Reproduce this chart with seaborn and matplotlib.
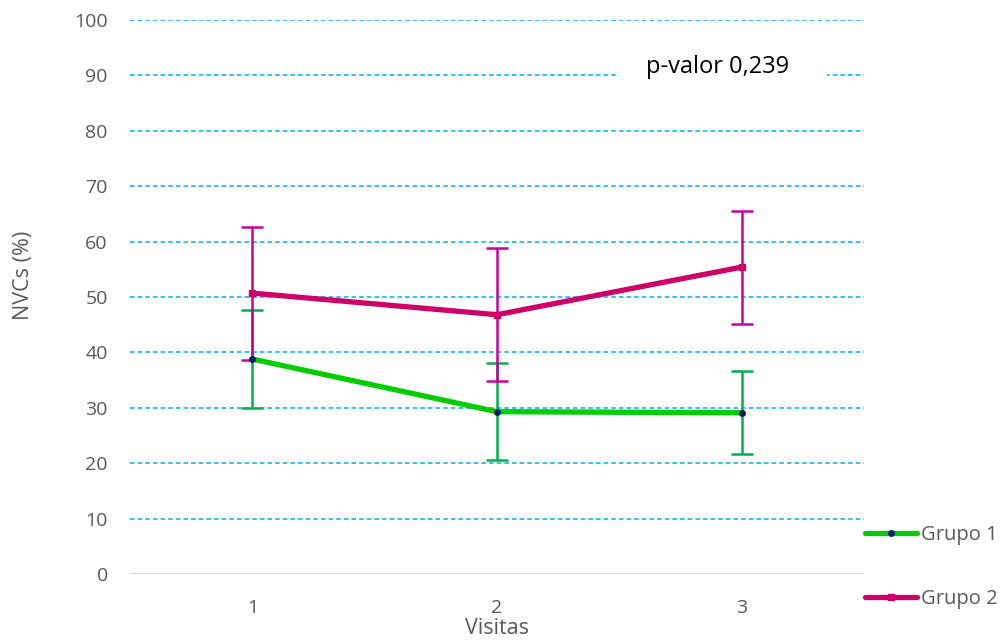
import matplotlib
matplotlib.use("Agg")
import matplotlib.pyplot as plt
import seaborn as sns
import pandas as pd
from matplotlib.lines import Line2D
from matplotlib.patches import Rectangle

visitas = [1, 2, 3]
grupo1 = [38.8, 29.3, 29.1]
grupo1_err = [8.8, 8.8, 7.5]
grupo2 = [50.7, 46.8, 55.4]
grupo2_err = [12.0, 12.0, 10.2]
yticks = [0, 10, 20, 30, 40, 50, 60, 70, 80, 90, 100]

sns.set_theme(style="white")
plt.rcParams['font.family'] = ['Open Sans', 'DejaVu Sans']

df = pd.DataFrame({
    "Visitas": visitas * 2,
    "NVC": grupo1 + grupo2,
    "Grupo": ["Grupo 1"] * 3 + ["Grupo 2"] * 3,
})

fig = plt.figure(figsize=(10.05, 6.43), dpi=100)
ax = fig.add_axes([130 / 1005, 1 - 574 / 643, (864 - 130) / 1005, (574 - 20) / 643])

c1_line = "#00CC00"
c1_err = "#00B050"
c2_line = "#CC0066"
c2_err = "#CC0099"

for y in yticks[1:]:
    ax.axhline(y, color="#00B0F0", lw=1.1, ls=(0, (3, 2)), zorder=1)
ax.axhline(0, color="#D9D9D9", lw=1.3, zorder=1)

ax.errorbar(visitas, grupo1, yerr=grupo1_err, fmt="none", ecolor=c1_err,
            elinewidth=1.8, capsize=8, capthick=1.8, zorder=3)
ax.errorbar(visitas, grupo2, yerr=grupo2_err, fmt="none", ecolor=c2_err,
            elinewidth=1.8, capsize=8, capthick=1.8, zorder=3)

sns.lineplot(data=df, x="Visitas", y="NVC", hue="Grupo",
             palette={"Grupo 1": c1_line, "Grupo 2": c2_line},
             linewidth=3.8, legend=False, ax=ax, zorder=4)
ax.plot(visitas, grupo1, ls="none", marker="o", ms=4, color="#002060", zorder=5)
ax.plot(visitas, grupo2, ls="none", marker="s", ms=5, color=c2_line, zorder=5)

ax.set_xlim(0.5, 3.5)
ax.set_ylim(0, 100)
ax.set_xticks(visitas)
ax.set_yticks(yticks)
ax.tick_params(axis="both", length=0, labelsize=14, labelcolor="#595959")
ax.tick_params(axis="x", pad=18)
ax.tick_params(axis="y", pad=16)
for s in ax.spines.values():
    s.set_visible(False)
ax.set_xlabel("Visitas", fontsize=15.5, color="#595959")
ax.xaxis.set_label_coords(0.5, (574 - 618) / 554)
ax.set_ylabel("NVCs (%)", fontsize=15.5, color="#595959", va="center")
ax.yaxis.set_label_coords((24 - 130) / 734, (574 - 275) / 554)
ax.grid(False)

ax.add_patch(Rectangle((2.49, 86), 0.86, 8, facecolor="white",
                       edgecolor="none", zorder=2))
ax.text(2.9, 91.5, "p-valor 0,239", fontsize=17, color="#000000",
        ha="center", va="center", zorder=6)

handles = [
    Line2D([0], [0], color=c1_line, lw=3.8, marker="o", ms=4,
           markerfacecolor="#002060", markeredgecolor="#002060"),
    Line2D([0], [0], color=c2_line, lw=3.8, marker="s", ms=5,
           markerfacecolor=c2_line, markeredgecolor=c2_line),
]
fig.legend(handles, ["Grupo 1", "Grupo 2"], loc="center left",
           bbox_to_anchor=(865 / 1005, 1 - 567 / 643), frameon=False,
           fontsize=14.5, labelcolor="#595959", handlelength=2.6,
           handletextpad=0.2, labelspacing=2.2, borderpad=0, borderaxespad=0)

fig.savefig("out.png", dpi=100)
